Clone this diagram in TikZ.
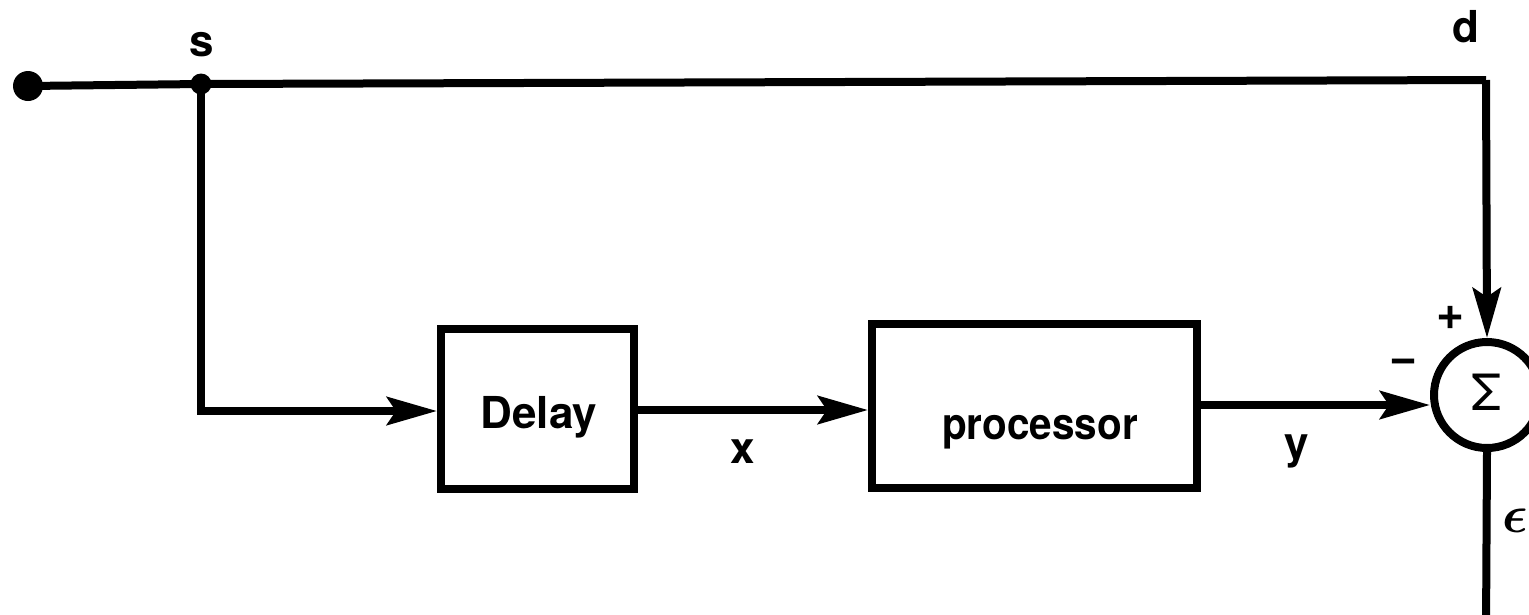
\documentclass[tikz,border=0pt]{standalone}
\usepackage{fontspec}
\setmainfont{TeX Gyre Heros}
\usetikzlibrary{arrows.meta}
\tikzset{
  wire/.style={line width=8pt},
  flow/.style={wire,-{Stealth[length=50pt,width=28pt,inset=9pt]}},
  block/.style={draw,line width=8pt,inner sep=0pt},
  lbl/.style={font=\fontsize{44}{48}\selectfont\bfseries},
  sign/.style={font=\fontsize{48}{50}\selectfont\bfseries},
}
\begin{document}
\begin{tikzpicture}[x=1pt,y=-1pt]
  \useasboundingbox (0,0) rectangle (1529,614);
  % terminals and branch points
  \coordinate (in) at (28,86);
  \fill (in) circle (15pt);
  \coordinate (s) at (201,84);
  \fill (s) circle (10.5pt);
  \coordinate (dcorner) at (1486,80);
  \coordinate (sbend) at (201,411);
  \coordinate (eout) at (1486,630);
  % blocks
  \node[block,minimum width=193pt,minimum height=160pt] (delay) at (537.5,409) {};
  \node[lbl] at (539,417) {Delay};
  \node[block,minimum width=325pt,minimum height=164pt] (proc) at (1034.5,406) {};
  \node[lbl] at (1040,432) {\scalebox{0.92}[1]{processor}};
  \node[draw,circle,line width=8pt,minimum size=106pt,inner sep=0pt] (sum) at (1487,395) {};
  \node[font=\fontsize{50}{50}\selectfont] at (1487,392) {Σ};
  % signal labels
  \node[lbl] at (202,45) {s};
  \node[lbl] at (1466,27) {d};
  \node[lbl] at (743,452) {x};
  \node[lbl] at (1297,451) {y};
  \node[sign] at (1450,318) {+};
  \node[sign] at (1404,366) {−};
  \node[inner sep=0pt] at (1515,521) {\scalebox{5.3}{\boldmath$\epsilon$}};
  % connectors
  \draw[wire] (in) -- (s) -- (dcorner);
  \draw[flow] (dcorner) -- (sum.north);
  \draw[flow] (s) -- (sbend) -- (delay.west |- sbend);
  \draw[flow] (delay.east |- 0,410) -- (proc.west |- 0,410);
  \draw[flow] (proc.east |- 0,405) -- (sum.west |- 0,405);
  \draw[wire] (sum.south) -- (eout);
\end{tikzpicture}
\end{document}
